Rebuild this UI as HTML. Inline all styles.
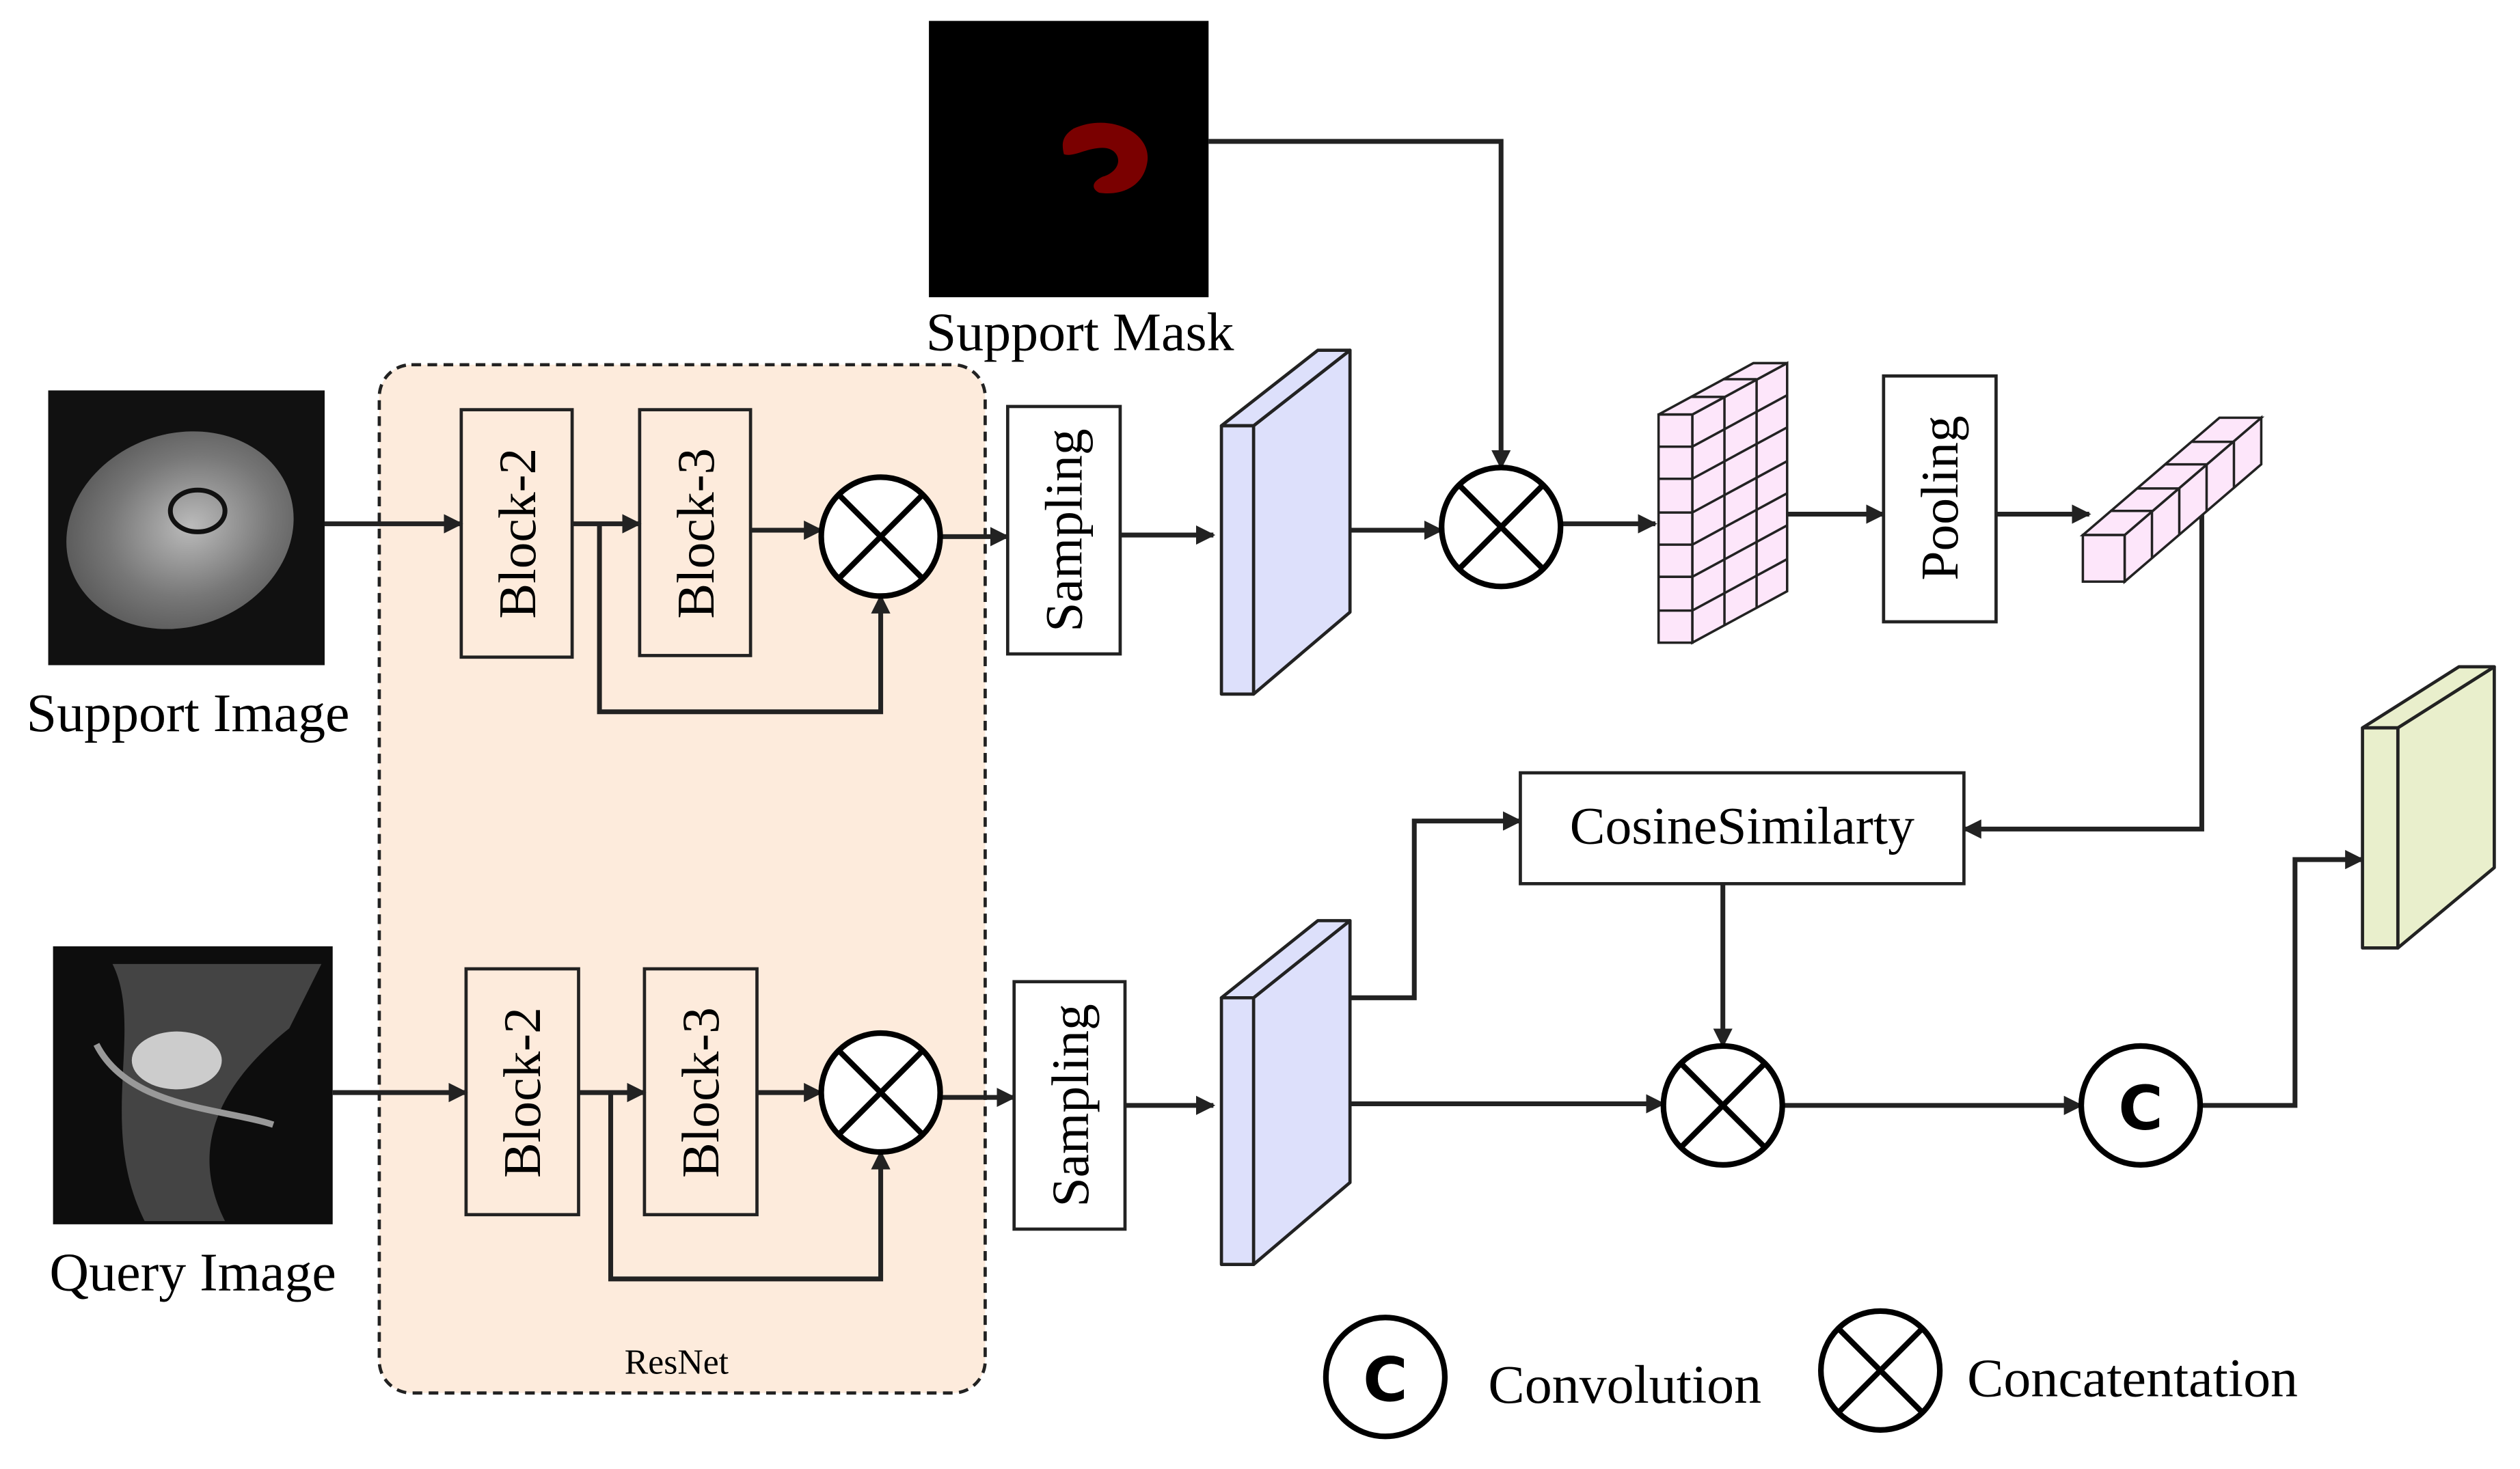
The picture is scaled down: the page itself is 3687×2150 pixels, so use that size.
<!DOCTYPE html>
<html><head><meta charset="utf-8"><style>html,body{margin:0;padding:0;background:#fff}svg{display:block}</style></head>
<body>
<svg width="3687" height="2150" viewBox="0 0 1568 914.3" preserveAspectRatio="none" xmlns="http://www.w3.org/2000/svg" font-family="'Liberation Serif', serif">
<defs>
<marker id="b" viewBox="0 0 10 10" refX="9" refY="5" markerWidth="12" markerHeight="12" orient="auto" markerUnits="userSpaceOnUse"><path d="M0,0 L10,5 L0,10 z" fill="#222"/></marker>
<radialGradient id="g1" cx="0.55" cy="0.5" r="0.6"><stop offset="0" stop-color="#bbb"/><stop offset="0.6" stop-color="#777"/><stop offset="1" stop-color="#555"/></radialGradient>
</defs>
<rect width="1568" height="914.3" fill="#fff"/>
<rect x="236" y="227" width="377" height="640" rx="20" fill="#fdebdc" stroke="#222" stroke-width="2" stroke-dasharray="6,4"/>
<text x="421" y="855" font-size="22" text-anchor="middle">ResNet</text>
<rect x="578" y="13" width="174" height="172" fill="#000"/>
<path d="M668,80 C690,70 716,82 714,100 C712,116 698,122 684,120 C680,118 678,114 686,110 C700,106 698,92 686,92 C676,92 668,98 662,96 C660,88 662,84 668,80z" fill="#7a0000"/>
<text x="672" y="218" font-size="34" text-anchor="middle">Support Mask</text>
<rect x="30" y="243" width="172" height="171" fill="#111"/>
<ellipse cx="112" cy="330" rx="72" ry="60" fill="url(#g1)" transform="rotate(-20 112 330)"/>
<ellipse cx="123" cy="318" rx="17" ry="13" fill="none" stroke="#111" stroke-width="3"/>
<text x="117" y="455" font-size="34" text-anchor="middle">Support Image</text>
<rect x="33" y="589" width="174" height="173" fill="#0d0d0d"/>
<path d="M70,600 C90,640 60,700 90,760 L140,760 C120,720 130,680 180,640 L200,600 Z" fill="#444"/>
<ellipse cx="110" cy="660" rx="28" ry="18" fill="#ccc"/>
<path d="M60,650 C80,690 140,690 170,700" fill="none" stroke="#999" stroke-width="4"/>
<text x="120" y="803" font-size="34" text-anchor="middle">Query Image</text>

<g stroke="#222" stroke-width="3" fill="none">
<line x1="202" y1="326" x2="287" y2="326" marker-end="url(#b)"/>
<line x1="356" y1="326" x2="398" y2="326" marker-end="url(#b)"/>
<polyline points="373,326 373,443 548,443 548,371" marker-end="url(#b)"/>
<line x1="467" y1="330" x2="511" y2="330" marker-end="url(#b)"/>
<line x1="585" y1="334" x2="627" y2="334" marker-end="url(#b)"/>
<line x1="697" y1="333" x2="755" y2="333" marker-end="url(#b)"/>
<polyline points="752,88 934,88 934,291" marker-end="url(#b)"/>
<line x1="840" y1="330" x2="897" y2="330" marker-end="url(#b)"/>
<line x1="971" y1="326" x2="1030" y2="326" marker-end="url(#b)"/>
<line x1="1112" y1="320" x2="1172" y2="320" marker-end="url(#b)"/>
<line x1="1242" y1="320" x2="1300" y2="320" marker-end="url(#b)"/>
<polyline points="1370,315 1370,516 1222,516" marker-end="url(#b)"/>
<line x1="207" y1="680" x2="290" y2="680" marker-end="url(#b)"/>
<line x1="360" y1="680" x2="401" y2="680" marker-end="url(#b)"/>
<polyline points="380,680 380,796 548,796 548,717" marker-end="url(#b)"/>
<line x1="471" y1="680" x2="511" y2="680" marker-end="url(#b)"/>
<line x1="585" y1="683" x2="631" y2="683" marker-end="url(#b)"/>
<line x1="700" y1="688" x2="755" y2="688" marker-end="url(#b)"/>
<polyline points="840,621 880,621 880,511 946,511" marker-end="url(#b)"/>
<line x1="840" y1="687" x2="1035" y2="687" marker-end="url(#b)"/>
<line x1="1072" y1="550" x2="1072" y2="651" marker-end="url(#b)"/>
<line x1="1109" y1="688" x2="1295" y2="688" marker-end="url(#b)"/>
<polyline points="1369,688 1428,688 1428,535 1470,535" marker-end="url(#b)"/>
</g>

<g stroke="#222" stroke-width="2" fill="#fff">
<rect x="287" y="255" width="69" height="154" fill="none"/>
<rect x="398" y="255" width="69" height="153" fill="none"/>
<rect x="627" y="253" width="70" height="154"/>
<rect x="290" y="603" width="70" height="153" fill="none"/>
<rect x="401" y="603" width="70" height="153" fill="none"/>
<rect x="631" y="611" width="69" height="154"/>
<rect x="1172" y="234" width="70" height="153"/>
<rect x="946" y="481" width="276" height="69"/>
</g>
<g font-size="33" text-anchor="middle" dominant-baseline="central">
<text transform="translate(322,332) rotate(-90)">Block-2</text>
<text transform="translate(433,332) rotate(-90)">Block-3</text>
<text transform="translate(662,330) rotate(-90)">Sampling</text>
<text transform="translate(325,680) rotate(-90)">Block-2</text>
<text transform="translate(436,680) rotate(-90)">Block-3</text>
<text transform="translate(666,688) rotate(-90)">Sampling</text>
<text transform="translate(1207,310) rotate(-90)">Pooling</text>
<text x="1084" y="514" font-size="33">CosineSimilarty</text>
</g>

<g stroke="#222" stroke-width="2" stroke-linejoin="round">
<polygon points="780,265 840,218 840,381 780,432" fill="#dde0fb"/>
<polygon points="760,265 780,265 840,218 820,218" fill="#dde0fb"/>
<rect x="760" y="265" width="20" height="167" fill="#dde0fb"/>
<polygon points="780,621 840,573 840,736 780,787" fill="#dde0fb"/>
<polygon points="760,621 780,621 840,573 820,573" fill="#dde0fb"/>
<rect x="760" y="621" width="20" height="166" fill="#dde0fb"/>
<polygon points="1492,453 1552,415 1552,540 1492,590" fill="#e9efcc"/>
<polygon points="1470,453 1492,453 1552,415 1530,415" fill="#e9efcc"/>
<rect x="1470" y="453" width="22" height="137" fill="#e9efcc"/>
</g>

<g stroke="#222" stroke-width="1.5" fill="#fde6fa">
<polygon points="1053,258 1112,226 1112,368 1053,400"/>
<polygon points="1032,258 1053,258 1112,226 1091,226"/>
<rect x="1032" y="258" width="21" height="142"/>
<g fill="none">
<line x1="1032" y1="278" x2="1053" y2="278"/><line x1="1032" y1="298" x2="1053" y2="298"/><line x1="1032" y1="319" x2="1053" y2="319"/><line x1="1032" y1="339" x2="1053" y2="339"/><line x1="1032" y1="359" x2="1053" y2="359"/><line x1="1032" y1="380" x2="1053" y2="380"/>
<line x1="1053" y1="278" x2="1112" y2="246"/><line x1="1053" y1="298" x2="1112" y2="266"/><line x1="1053" y1="319" x2="1112" y2="287"/><line x1="1053" y1="339" x2="1112" y2="307"/><line x1="1053" y1="359" x2="1112" y2="327"/><line x1="1053" y1="380" x2="1112" y2="348"/>
<line x1="1073" y1="247" x2="1073" y2="389"/><line x1="1093" y1="236" x2="1093" y2="378"/>
<line x1="1052" y1="247" x2="1073" y2="247"/><line x1="1072" y1="236" x2="1093" y2="236"/>
</g>
<polygon points="1322,333 1407,260 1407,289 1322,362"/>
<polygon points="1296,333 1322,333 1407,260 1381,260"/>
<rect x="1296" y="333" width="26" height="29"/>
<g fill="none">
<line x1="1339" y1="318" x2="1339" y2="347"/><line x1="1356" y1="304" x2="1356" y2="333"/><line x1="1373" y1="289" x2="1373" y2="318"/><line x1="1390" y1="275" x2="1390" y2="304"/>
<line x1="1313" y1="318" x2="1339" y2="318"/><line x1="1330" y1="304" x2="1356" y2="304"/><line x1="1347" y1="289" x2="1373" y2="289"/><line x1="1364" y1="275" x2="1390" y2="275"/>
</g>
</g>

<g stroke="#000" stroke-width="3.5" fill="#fff">
<circle cx="548" cy="334" r="37"/><path d="M522,308 L574,360 M574,308 L522,360"/>
<circle cx="548" cy="680" r="37"/><path d="M522,654 L574,706 M574,654 L522,706"/>
<circle cx="934" cy="328" r="37"/><path d="M908,302 L960,354 M960,302 L908,354"/>
<circle cx="1072" cy="688" r="37"/><path d="M1046,662 L1098,714 M1098,662 L1046,714"/>
<circle cx="1332" cy="688" r="37"/>
<circle cx="862" cy="857" r="37"/>
<circle cx="1170" cy="853" r="37"/><path d="M1144,827 L1196,879 M1196,827 L1144,879"/>
</g>
<g font-family="'DejaVu Sans', sans-serif" font-weight="bold" font-size="38" text-anchor="middle" dominant-baseline="central">
<text x="1332" y="690">C</text><text x="862" y="859">C</text>
</g>
<text x="926" y="873" font-size="34">Convolution</text>
<text x="1224" y="869" font-size="34">Concatentation</text>
</svg>
</body></html>
